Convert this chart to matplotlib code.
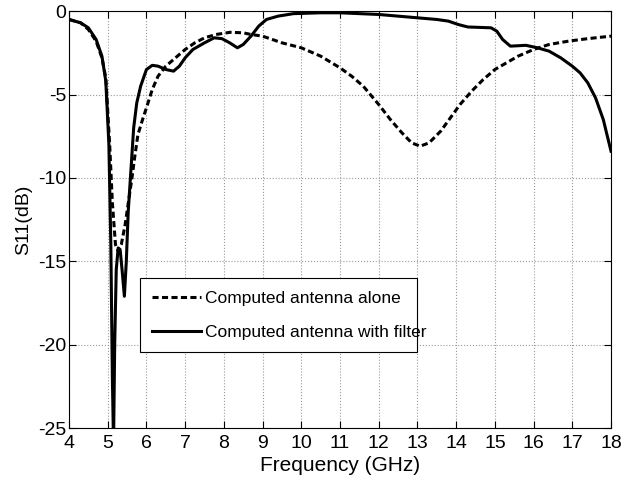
import numpy as np
import matplotlib
matplotlib.use("Agg")
import matplotlib.pyplot as plt

# Computed antenna alone (dashed)
freq_alone = [4.0, 4.3, 4.5, 4.7, 4.85, 4.95, 5.05, 5.12, 5.2, 5.27, 5.35, 5.45, 5.55,
              5.62, 5.7, 5.78, 5.9, 6.0, 6.15, 6.3, 6.5, 6.75, 7.0, 7.25, 7.5, 7.8,
              8.16, 8.5, 8.7, 9.0, 9.5, 10.0, 10.5, 11.0, 11.3, 11.6, 12.0, 12.3,
              12.6, 12.85, 13.07, 13.3, 13.6, 13.85, 14.1, 14.4, 14.7, 15.0, 15.3,
              15.6, 16.0, 16.4, 16.9, 17.4, 18.0]
s11_alone = [-0.5, -0.7, -1.1, -1.8, -2.8, -4.0, -8.0, -11.5, -14.0, -14.4, -14.0,
             -12.8, -11.2, -10.1, -8.7, -7.4, -6.5, -5.8, -4.7, -3.9, -3.3, -2.8,
             -2.3, -1.9, -1.6, -1.4, -1.27, -1.3, -1.4, -1.5, -1.9, -2.2, -2.7,
             -3.4, -3.9, -4.5, -5.6, -6.5, -7.3, -7.9, -8.1, -7.9, -7.2, -6.4,
             -5.6, -4.8, -4.1, -3.5, -3.1, -2.7, -2.3, -2.0, -1.8, -1.65, -1.5]

# Computed antenna with filter (solid)
freq_filter = [4.0, 4.3, 4.5, 4.7, 4.85, 4.95, 5.03, 5.08, 5.12, 5.15, 5.18, 5.22,
               5.27, 5.32, 5.37, 5.43, 5.48, 5.53, 5.6, 5.67, 5.75, 5.85, 6.0, 6.15,
               6.3, 6.5, 6.7, 6.85, 7.0, 7.2, 7.5, 7.75, 7.95, 8.15, 8.35, 8.5, 8.7,
               8.9, 9.1, 9.4, 9.8, 10.5, 11.0, 11.5, 12.0, 12.5, 13.0, 13.5, 13.8,
               14.05, 14.3, 14.9, 15.05, 15.2, 15.4, 15.8, 16.1, 16.4, 16.7, 17.0,
               17.2, 17.4, 17.6, 17.8, 18.0]
s11_filter = [-0.5, -0.7, -1.0, -1.7, -2.7, -4.2, -8.0, -14.0, -22.0, -26.0, -20.0,
              -15.5, -14.2, -14.3, -15.5, -17.1, -15.0, -12.0, -9.5, -7.0, -5.5,
              -4.5, -3.5, -3.25, -3.3, -3.5, -3.6, -3.3, -2.8, -2.3, -1.9, -1.6,
              -1.65, -1.9, -2.2, -2.0, -1.5, -0.9, -0.5, -0.3, -0.15, -0.1, -0.1,
              -0.15, -0.2, -0.3, -0.4, -0.5, -0.6, -0.8, -0.95, -1.0, -1.2, -1.7,
              -2.1, -2.05, -2.2, -2.4, -2.8, -3.3, -3.7, -4.3, -5.2, -6.5, -8.4]

plt.rcParams['font.family'] = ['Liberation Sans', 'DejaVu Sans']
plt.rcParams['axes.unicode_minus'] = False

fig = plt.figure(figsize=(6.24, 4.84), dpi=100)
ax = fig.add_axes([0.1106, 0.1157, 0.8686, 0.8613])

ax.plot(freq_alone, s11_alone, color='black', linestyle=(0, (2.0, 1.1)),
        linewidth=2.2, label='Computed antenna alone')
ax.plot(freq_filter, s11_filter, color='black', linestyle='-',
        linewidth=2.2, label='Computed antenna with filter')

ax.set_xlim(4, 18)
ax.set_ylim(-25, 0)
ax.set_xticks(np.arange(4, 19, 1))
ax.set_yticks(np.arange(-25, 1, 5))
ax.grid(True, color='#999999', linestyle=':', linewidth=0.8)
ax.tick_params(direction='in', top=True, right=True, labelsize=14, length=5)
ax.tick_params(axis='x', pad=5)
ax.tick_params(axis='y', pad=2)
for spine in ax.spines.values():
    spine.set_linewidth(0.8)

ax.set_xlabel('Frequency (GHz)', fontsize=15, labelpad=3)
ax.set_ylabel('S11(dB)', fontsize=14, labelpad=4)

# legend box placed where it sits in the original
leg = ax.legend(loc='lower left', bbox_to_anchor=(0.131, 0.182, 0.511, 0.19),
                mode='expand', fontsize=12.5, fancybox=False, framealpha=1,
                edgecolor='black', handlelength=2.8, handletextpad=0.25,
                borderaxespad=0, labelspacing=1.1, borderpad=0.7)
leg.get_frame().set_linewidth(0.8)

fig.savefig('out.png', dpi=100)
